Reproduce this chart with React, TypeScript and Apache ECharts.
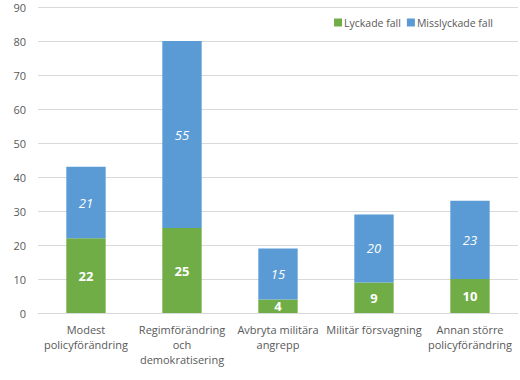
import React, { useEffect, useRef } from "react";
import * as echarts from "echarts";

const categories = [
  "Modest\npolicyförändring",
  "Regimförändring\noch\ndemokratisering",
  "Avbryta militära\nangrepp",
  "Militär försvagning",
  "Annan större\npolicyförändring",
];
const lyckade = [22, 25, 4, 9, 10];
const misslyckade = [21, 55, 15, 20, 23];
const yTicks = { min: 0, max: 90, interval: 10 };

export default function App() {
  const ref = useRef<HTMLDivElement>(null);
  useEffect(() => {
    if (!ref.current) return;
    const chart = echarts.init(ref.current, null, { renderer: "svg" });
    const font = "'Open Sans', 'DejaVu Sans', sans-serif";
    chart.setOption({
      animation: false,
      textStyle: { fontFamily: font },
      grid: { left: 38, right: 2, top: 7, bottom: 67, containLabel: false },
      legend: {
        top: 12,
        right: 22,
        itemWidth: 8,
        itemHeight: 8,
        itemGap: 6,
        icon: "rect",
        textStyle: { fontSize: 10.5, color: "#595959", fontFamily: font, padding: [0, 0, 0, -3] },
        data: ["Lyckade fall", "Misslyckade fall"],
      },
      xAxis: {
        type: "category",
        data: categories,
        axisLine: { show: true, lineStyle: { color: "#d9d9d9" } },
        axisTick: { show: false },
        axisLabel: { color: "#595959", fontSize: 11, lineHeight: 15, margin: 9, interval: 0, fontFamily: font },
      },
      yAxis: {
        type: "value",
        min: yTicks.min,
        max: yTicks.max,
        interval: yTicks.interval,
        axisLine: { show: false },
        axisTick: { show: false },
        axisLabel: { color: "#595959", fontSize: 11, margin: 12, fontFamily: font },
        splitLine: { lineStyle: { color: "#d9d9d9" } },
      },
      series: [
        {
          name: "Lyckade fall",
          type: "bar",
          stack: "total",
          data: lyckade,
          barWidth: "41%",
          itemStyle: { color: "#70ad47" },
          label: { show: true, position: "inside", color: "#fff", fontSize: 13, fontWeight: "bold", fontFamily: font },
        },
        {
          name: "Misslyckade fall",
          type: "bar",
          stack: "total",
          data: misslyckade,
          barWidth: "41%",
          itemStyle: { color: "#5b9bd5" },
          label: { show: true, position: "inside", color: "#fff", fontSize: 13, fontStyle: "italic", fontFamily: font },
        },
      ],
    });
    return () => chart.dispose();
  }, []);
  return <div ref={ref} style={{ width: 520, height: 380, position: "absolute", left: 0, top: 0 }} />;
}
